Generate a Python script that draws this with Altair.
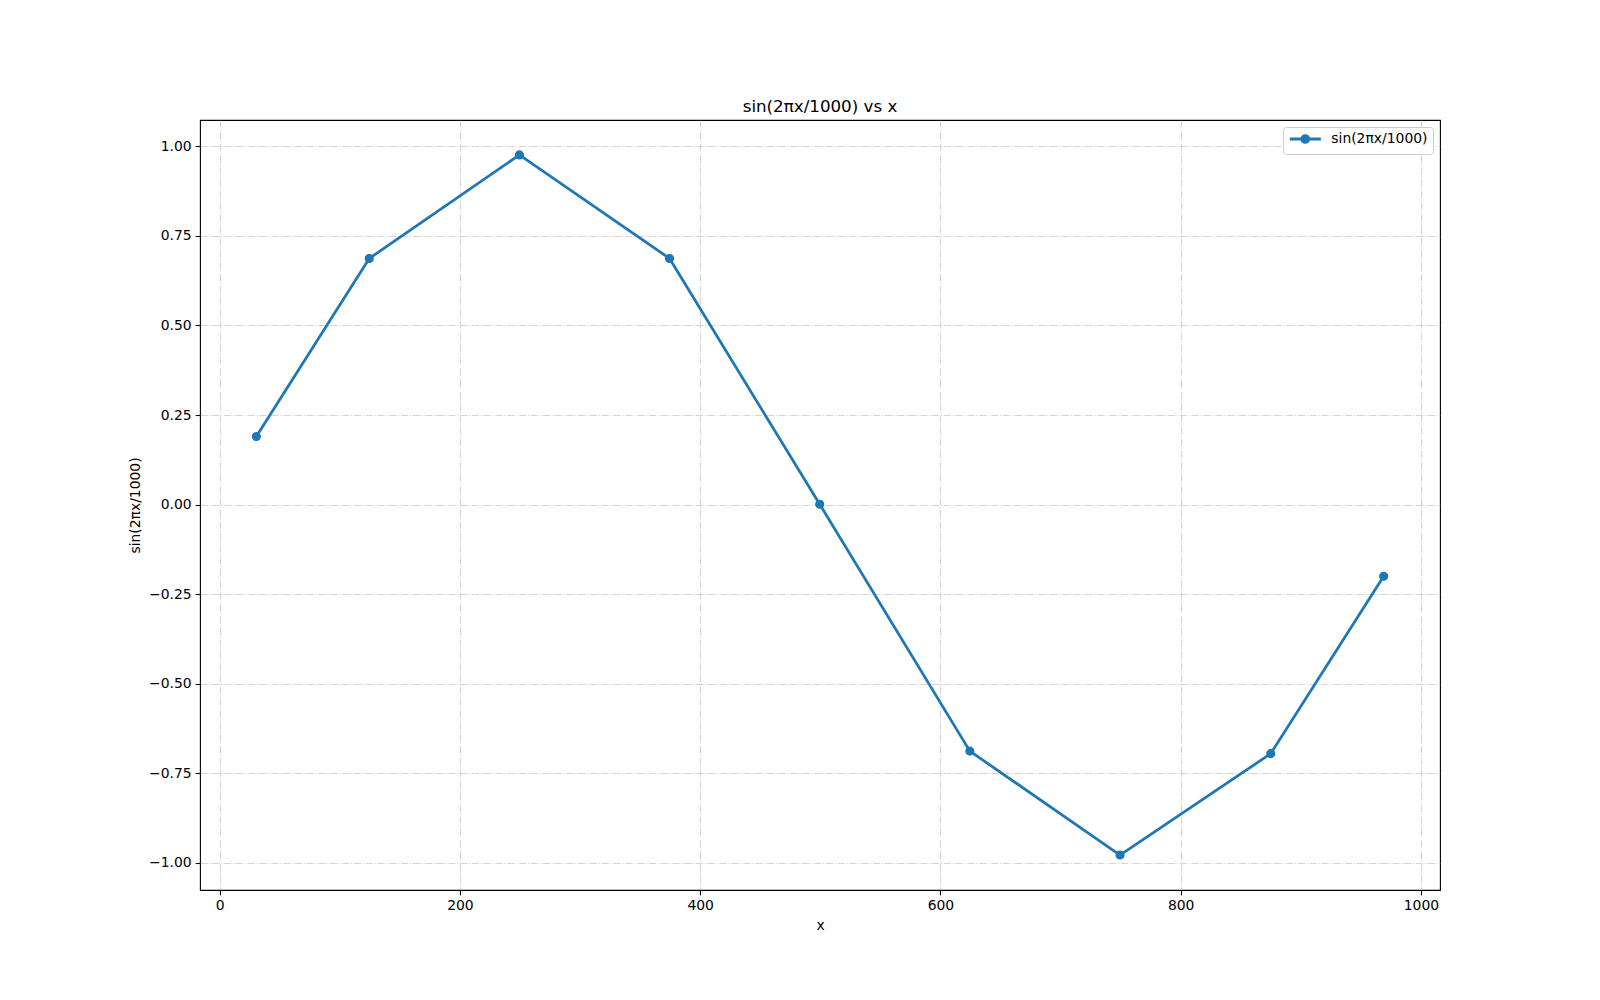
import altair as alt
import pandas as pd

x_vals = [30.5, 124.5, 249.5, 374.5, 499.5, 624.5, 749.5, 875.0, 969.0]
y_vals = [0.19, 0.687, 0.976, 0.687, 0.001, -0.688, -0.978, -0.695, -0.200]
series_name = "sin(2πx/1000)"
x_ticks = [0, 200, 400, 600, 800, 1000]
y_ticks = [-1.0, -0.75, -0.5, -0.25, 0.0, 0.25, 0.5, 0.75, 1.0]

df = pd.DataFrame({"x": x_vals, "y": y_vals, "series": [series_name] * len(x_vals)})

FONT = "DejaVu Sans"
BLUE = "#1f77b4"
GRID_DASH = [7.1, 1.8, 1.1, 1.8]

xenc = alt.X(
    "x:Q",
    scale=alt.Scale(domain=[-16.4, 1015.9], nice=False, zero=False),
    axis=alt.Axis(values=x_ticks, format="d", title="x"),
)
yenc = alt.Y(
    "y:Q",
    scale=alt.Scale(domain=[-1.0756, 1.0734], nice=False, zero=False),
    axis=alt.Axis(
        values=y_ticks,
        title=series_name,
        labelExpr="replace(format(datum.value, '.2f'), '-', '\u2212')",
    ),
)
color = alt.Color(
    "series:N",
    scale=alt.Scale(domain=[series_name], range=[BLUE]),
    legend=alt.Legend(
        title=None,
        orient="top-right",
        offset=7,
        symbolType="M-3,0L3,0M-0.671,0A0.671,0.671,0,1,1,0.671,0A0.671,0.671,0,1,1,-0.671,0Z",
        symbolSize=107,
        symbolStrokeWidth=2.78,
        symbolFillColor=BLUE,
        symbolStrokeColor=BLUE,
        symbolOffset=10.3,
        labelFont=FONT,
        labelFontSize=13.9,
        labelColor="black",
        labelOffset=19,
        fillColor="white",
        strokeColor="#cccccc",
        cornerRadius=3,
        padding=5,
    ),
)

line = alt.Chart(df).mark_line(strokeWidth=2.78, clip=False).encode(x=xenc, y=yenc, color=color)
points = alt.Chart(df).mark_point(
    filled=True, size=60, strokeWidth=1.39, opacity=1, clip=False
).encode(x=xenc, y=yenc, color=color, stroke=alt.value(BLUE))

chart = (
    alt.layer(line, points)
    .properties(
        width=1240,
        height=770,
        autosize=alt.AutoSizeParams(type="none"),
        padding={"left": 192, "top": 112, "right": 152, "bottom": 102},
        title=alt.TitleParams(
            text="sin(2πx/1000) vs x",
            font=FONT,
            fontSize=16.7,
            fontWeight="normal",
            color="black",
            anchor="middle",
            offset=4,
        ),
    )
    .configure_view(stroke="black", strokeWidth=1.1)
    .configure_axis(
        labelFont=FONT,
        labelFontSize=13.9,
        labelColor="black",
        titleFont=FONT,
        titleFontSize=13.9,
        titleFontWeight="normal",
        titleColor="black",
        tickColor="black",
        tickSize=4.86,
        tickWidth=1.1,
        labelPadding=4,
        domain=False,
        grid=True,
        gridColor="#b0b0b0",
        gridOpacity=0.55,
        gridWidth=1.1,
        gridDash=GRID_DASH,
    )
    .configure_axisX(titlePadding=6)
    .configure_axisY(titlePadding=6)
)

chart.save("out.html", embed_options={"renderer": "svg", "actions": False})
